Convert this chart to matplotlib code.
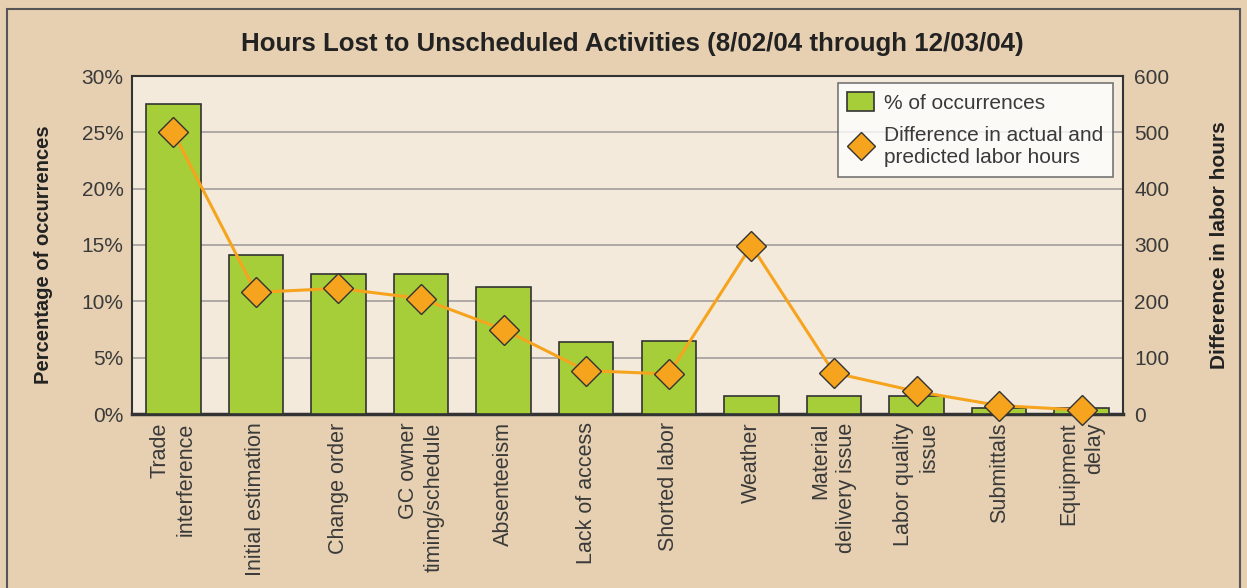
import matplotlib
matplotlib.use("Agg")
import matplotlib.pyplot as plt
from matplotlib.patches import Rectangle
from matplotlib.lines import Line2D
from matplotlib.patches import Patch

categories = ["Trade\ninterference", "Initial estimation", "Change order",
              "GC owner\ntiming/schedule", "Absenteeism", "Lack of access",
              "Shorted labor", "Weather", "Material\ndelivery issue",
              "Labor quality\nissue", "Submittals", "Equipment\ndelay"]
pct_occurrences = [27.5, 14.1, 12.4, 12.4, 11.3, 6.4, 6.5, 1.6, 1.6, 1.6, 0.5, 0.5]
hours_diff = [500, 216, 223, 205, 150, 77, 71, 299, 73, 40, 15, 7]
pct_ticks = [0, 5, 10, 15, 20, 25, 30]
hour_ticks = [0, 100, 200, 300, 400, 500, 600]

bg = "#E6D0B1"
plot_bg = "#F4EADC"
green = "#A6CE39"
orange = "#F6A41E"
dark = "#333333"
txt = "#3a3a3a"
plt.rcParams["font.family"] = ["Liberation Sans", "DejaVu Sans"]

fig = plt.figure(figsize=(12.47, 5.88), dpi=100, facecolor=bg)
fig.patches.append(Rectangle((7 / 1247, -0.1), 1233 / 1247, 1.1 - 9 / 588,
                             transform=fig.transFigure, fill=False,
                             edgecolor="#555555", linewidth=1.5))

ax = fig.add_axes([132 / 1247, 1 - 414 / 588, 991 / 1247, 338 / 588])
ax.set_facecolor(plot_bg)
x = range(len(categories))
ax.bar(x, pct_occurrences, width=0.66, color=green, edgecolor=dark,
       linewidth=1.2, zorder=3)
ax.set_xlim(-0.5, len(categories) - 0.5)
ax.set_ylim(0, 30)
ax.set_yticks(pct_ticks)
ax.set_yticklabels([f"{t}%" for t in pct_ticks])
ax.yaxis.grid(True, color="#a8a4a0", linewidth=1.3, zorder=0)
ax.set_axisbelow(True)
ax.tick_params(length=0, labelsize=15, colors=txt, pad=6)
ax.set_xticks(list(x))
ax.set_xticklabels(categories, rotation=90, ha="center", va="top",
                   multialignment="right", fontsize=15.5, color=txt,
                   linespacing=1.3)
for s in ax.spines.values():
    s.set_color(dark)
    s.set_linewidth(1.5)
ax.spines["bottom"].set_linewidth(2.5)
ax.set_ylabel("Percentage of occurrences", fontsize=14.5, fontweight="bold",
              color="#222222")
ax.yaxis.set_label_coords(-0.080, 0.47)

ax2 = ax.twinx()
ax2.plot(x, hours_diff, color=orange, linewidth=2.2, marker="D",
         markersize=15, markerfacecolor=orange, markeredgecolor=dark,
         markeredgewidth=1.0, zorder=5, clip_on=False)
ax2.set_ylim(0, 600)
ax2.set_yticks(hour_ticks)
ax2.tick_params(length=0, labelsize=15, colors=txt, pad=8)
for s in ax2.spines.values():
    s.set_visible(False)
ax2.set_ylabel("Difference in labor hours", fontsize=15, fontweight="bold",
               color="#222222", rotation=90)
ax2.yaxis.set_label_coords(1.088, 0.5)

handles = [Patch(facecolor=green, edgecolor=dark, linewidth=1.2),
           Line2D([], [], color="none", marker="D", markersize=14,
                  markerfacecolor=orange, markeredgecolor=dark)]
leg = ax2.legend(handles, ["% of occurrences",
                           "Difference in actual and\npredicted labor hours"],
                 loc="upper right", bbox_to_anchor=(0.99, 0.979),
                 borderaxespad=0, fontsize=15, frameon=True, fancybox=False,
                 handlelength=1.3, handleheight=1.0, borderpad=0.45,
                 labelspacing=0.65, handletextpad=0.5)
leg.get_frame().set_edgecolor("#555555")
leg.get_frame().set_linewidth(1.2)
for t in leg.get_texts():
    t.set_color(txt)

fig.text(632 / 1247, 1 - 44 / 588,
         "Hours Lost to Unscheduled Activities (8/02/04 through 12/03/04)",
         ha="center", va="center", fontsize=18.6, fontweight="bold",
         color="#222222")

fig.savefig("out.png", dpi=100, facecolor=bg)
